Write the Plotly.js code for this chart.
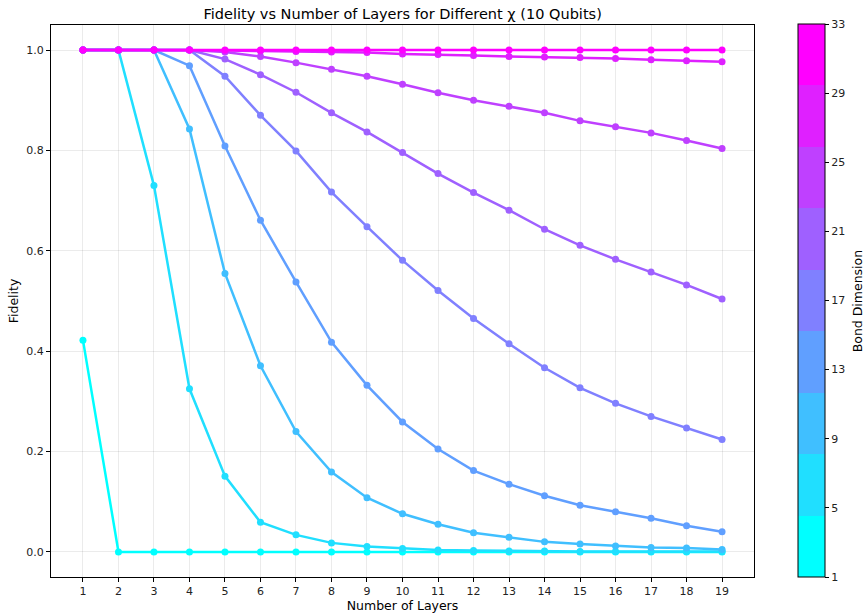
<!DOCTYPE html>
<html>
<head>
<meta charset="utf-8">
<script src="https://cdn.plot.ly/plotly-3.0.1.min.js"></script>
<style>
  html, body { margin: 0; padding: 0; background: #fff; }
  #chart { width: 865px; height: 616px; }
</style>
</head>
<body>
<div id="chart"></div>
<script>
// Number of circuit layers on the x axis
const layers = [1, 2, 3, 4, 5, 6, 7, 8, 9, 10, 11, 12, 13, 14, 15, 16, 17, 18, 19];

// Bond dimensions χ, one curve each
const bondDims = [1, 5, 9, 13, 17, 21, 25, 29, 33];

// Fidelity per layer for each bond dimension
const fidChi1  = [0.422, 0, 0, 0, 0, 0, 0, 0, 0, 0, 0, 0, 0, 0, 0, 0, 0, 0, 0];
const fidChi5  = [1, 1, 0.730, 0.325, 0.151, 0.059, 0.034, 0.018, 0.011, 0.007, 0.004, 0.003, 0.002, 0.002, 0.001, 0.001, 0.001, 0.001, 0.001];
const fidChi9  = [1, 1, 1, 0.843, 0.555, 0.371, 0.240, 0.159, 0.108, 0.076, 0.055, 0.038, 0.029, 0.020, 0.016, 0.012, 0.009, 0.008, 0.005];
const fidChi13 = [1, 1, 1, 0.969, 0.809, 0.661, 0.538, 0.418, 0.332, 0.259, 0.205, 0.162, 0.135, 0.112, 0.093, 0.080, 0.067, 0.052, 0.040];
const fidChi17 = [1, 1, 1, 1, 0.948, 0.870, 0.799, 0.717, 0.648, 0.581, 0.521, 0.465, 0.415, 0.367, 0.327, 0.296, 0.270, 0.247, 0.224];
const fidChi21 = [1, 1, 1, 1, 0.982, 0.951, 0.916, 0.875, 0.837, 0.796, 0.754, 0.716, 0.681, 0.643, 0.611, 0.583, 0.558, 0.532, 0.504];
const fidChi25 = [1, 1, 1, 1, 0.996, 0.987, 0.975, 0.962, 0.948, 0.932, 0.915, 0.900, 0.888, 0.875, 0.859, 0.847, 0.835, 0.820, 0.804];
const fidChi29 = [1, 1, 1, 1, 0.999, 0.998, 0.997, 0.996, 0.995, 0.992, 0.991, 0.989, 0.987, 0.986, 0.985, 0.983, 0.981, 0.979, 0.977];
const fidChi33 = [1, 1, 1, 1, 1, 1, 1, 1, 1, 1, 1, 1, 1, 1, 1, 1, 1, 1, 1];

const fidelities = [fidChi1, fidChi5, fidChi9, fidChi13, fidChi17, fidChi21, fidChi25, fidChi29, fidChi33];

// Colorbar ticks
const cbTicks = [1, 5, 9, 13, 17, 21, 25, 29, 33];

// "cool" colormap split into discrete bins
const nBins = 9;
const cMin = 1, cMax = 33;
function cool(t) {
  const r = Math.round(255 * t), g = Math.round(255 * (1 - t));
  return 'rgb(' + r + ',' + g + ',255)';
}
const binColors = [];
for (let i = 0; i < nBins; i++) binColors.push(cool(i / (nBins - 1)));
function colorFor(v) {
  let idx = Math.floor((v - cMin) / (cMax - cMin) * nBins);
  idx = Math.max(0, Math.min(nBins - 1, idx));
  return binColors[idx];
}
const stepScale = [];
for (let i = 0; i < nBins; i++) {
  stepScale.push([i / nBins, binColors[i]]);
  stepScale.push([(i + 1) / nBins, binColors[i]]);
}

const font = 'DejaVu Sans, sans-serif';

const traces = bondDims.map((chi, k) => ({
  type: 'scatter',
  mode: 'lines+markers',
  x: layers,
  y: fidelities[k],
  name: 'χ=' + chi,
  line: { color: colorFor(chi), width: 2.5 },
  marker: { color: colorFor(chi), size: 7 },
  showlegend: false,
  hoverinfo: 'x+y+name'
}));

// Invisible carrier for the colorbar
traces.push({
  type: 'scatter',
  mode: 'markers',
  x: [null],
  y: [null],
  showlegend: false,
  hoverinfo: 'skip',
  marker: {
    color: [cMin, cMax],
    cmin: cMin,
    cmax: cMax,
    colorscale: stepScale,
    showscale: true,
    size: 0,
    colorbar: {
      x: 1.0626, xanchor: 'left',
      y: 0, yanchor: 'bottom', ypad: 0, xpad: 0,
      lenmode: 'pixels', len: 553,
      thickness: 27, thicknessmode: 'pixels',
      outlinecolor: '#000', outlinewidth: 1,
      tickmode: 'array', tickvals: cbTicks, ticktext: cbTicks.map(String),
      ticks: 'outside', ticklen: 4, tickcolor: '#000',
      tickfont: { family: font, size: 11, color: '#222' },
      title: { text: '' }
    }
  }
});

const layout = {
  width: 865,
  height: 616,
  margin: { l: 51, r: 111, t: 25, b: 39 },
  paper_bgcolor: '#fff',
  plot_bgcolor: '#fff',
  title: {
    text: 'Fidelity vs Number of Layers for Different χ (10 Qubits)',
    font: { family: font, size: 14.5, color: '#000' },
    x: 0.4655, xanchor: 'center', y: 0.977, yanchor: 'middle'
  },
  xaxis: {
    range: [0.1, 19.9],
    tickmode: 'array', tickvals: layers,
    ticks: 'outside', ticklen: 4, tickcolor: '#000',
    tickfont: { family: font, size: 11, color: '#222' },
    showgrid: true, gridcolor: 'rgba(0,0,0,0.08)', gridwidth: 1,
    showline: true, linecolor: '#000', linewidth: 1, mirror: true,
    zeroline: false,
    title: { text: 'Number of Layers', font: { family: font, size: 12.5, color: '#000' }, standoff: 4 }
  },
  yaxis: {
    range: [-0.05, 1.05],
    tickmode: 'array', tickvals: [0, 0.2, 0.4, 0.6, 0.8, 1.0],
    ticktext: ['0.0', '0.2', '0.4', '0.6', '0.8', '1.0'],
    ticks: 'outside', ticklen: 4, tickcolor: '#000',
    tickfont: { family: font, size: 11, color: '#222' },
    showgrid: true, gridcolor: 'rgba(0,0,0,0.08)', gridwidth: 1,
    showline: true, linecolor: '#000', linewidth: 1, mirror: true,
    zeroline: false,
    title: { text: 'Fidelity', font: { family: font, size: 12.5, color: '#000' }, standoff: 4 }
  },
  annotations: [{
    text: 'Bond Dimension',
    xref: 'paper', yref: 'paper',
    x: 1.147, y: 0.5,
    xanchor: 'center', yanchor: 'middle',
    textangle: -90,
    showarrow: false,
    font: { family: font, size: 12.5, color: '#000' }
  }]
};

Plotly.newPlot('chart', traces, layout, { displayModeBar: false, staticPlot: true });
</script>
</body>
</html>
